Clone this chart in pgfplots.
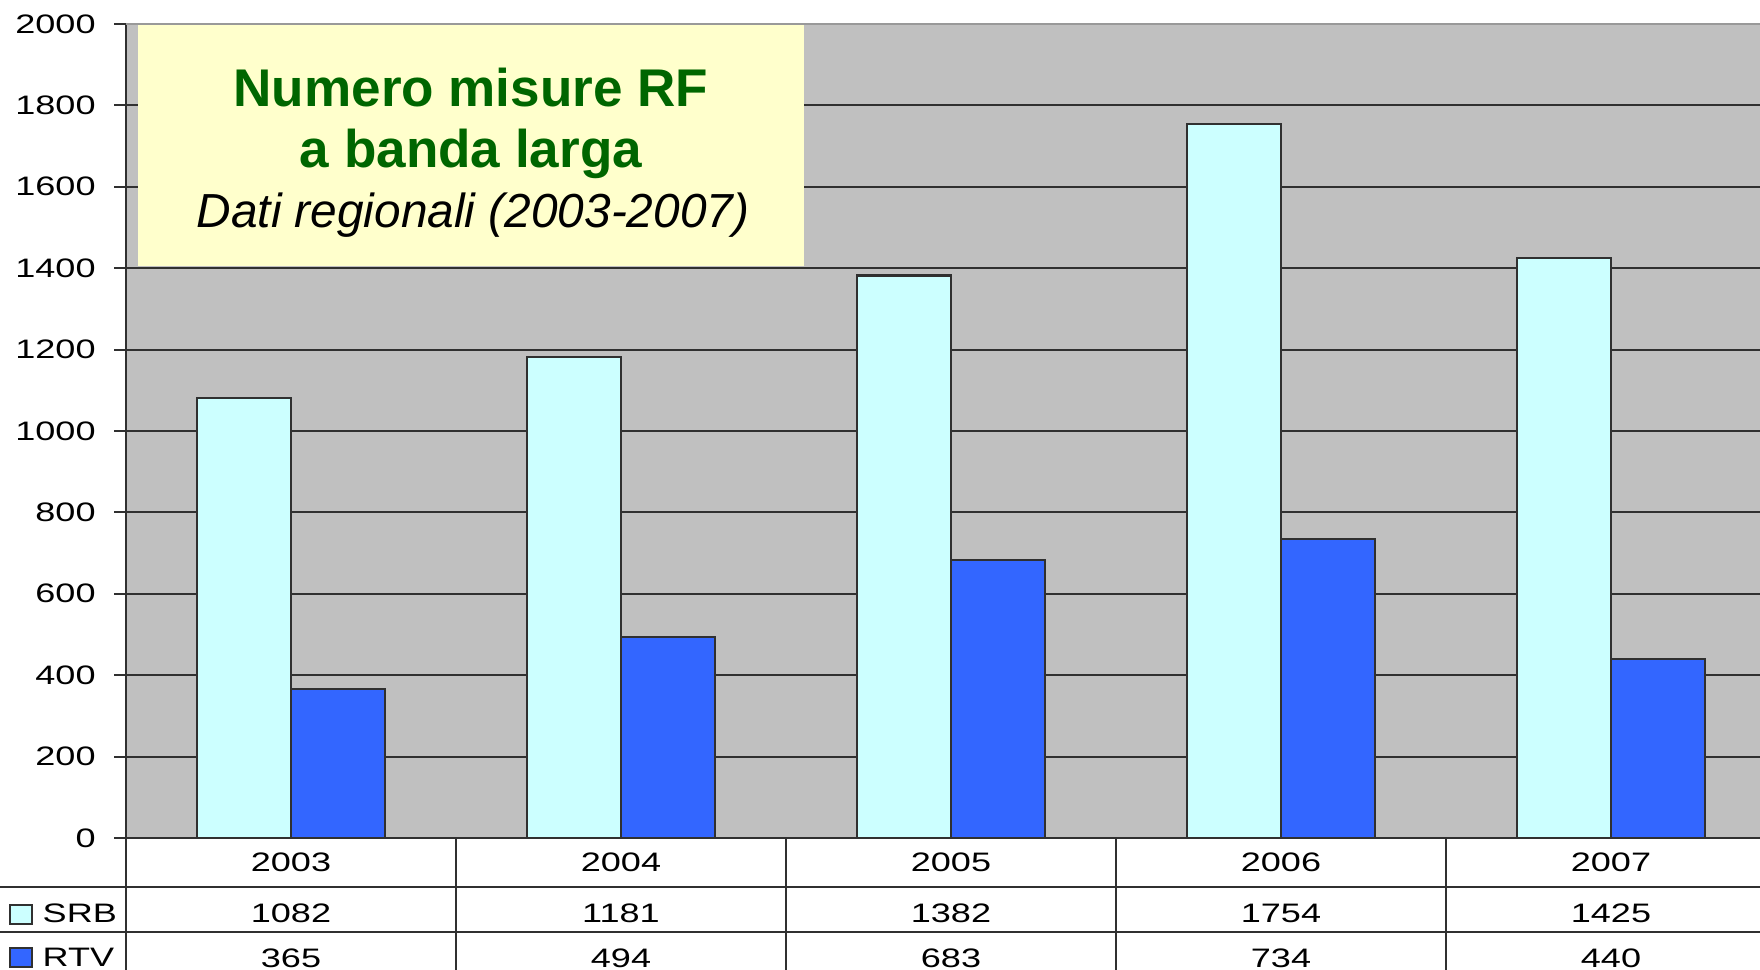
\documentclass[border=0pt]{standalone}
\usepackage{fontspec}
\usepackage{pgfplots}
\usepackage{pgfplotstable}
\pgfplotsset{compat=1.18}
\setmainfont{Liberation Sans}
\newfontfamily\chartfont[FakeStretch=1.35]{Liberation Sans}
\newcommand\tabfont{\chartfont\fontsize{7.6}{9}\selectfont}
\definecolor{srb}{HTML}{CCFFFF}
\definecolor{rtv}{HTML}{3366FF}
\definecolor{plotbg}{HTML}{C0C0C0}
\definecolor{titlebg}{HTML}{FFFFCC}
\definecolor{titlegreen}{HTML}{006600}
\definecolor{linec}{HTML}{303030}

\pgfplotstableread{
x year srb rtv
0 2003 1082 365
1 2004 1181 494
2 2005 1382 683
3 2006 1754 734
4 2007 1425 440
}\data

\begin{document}
\begin{tikzpicture}
\useasboundingbox (0,0) rectangle (17.6,9.7);
\clip (0,0) rectangle (17.6,9.7);
\fill[white] (0,0) rectangle (17.6,9.7);
\begin{axis}[
  at={(1.26cm,1.32cm)}, anchor=south west,
  scale only axis, width=16.5cm, height=8.14cm,
  xmin=-0.5, xmax=4.5, ymin=0, ymax=2000,
  axis lines*=left,
  axis line style={linec, line width=0.6pt},
  axis background/.style={fill=plotbg},
  ytick={0,200,...,2000},
  ymajorgrids, grid style={linec, line width=0.6pt},
  tick align=outside, ytick pos=left, major tick length=1.2mm,
  ytick style={linec, line width=0.6pt},
  xtick=\empty,
  yticklabel style={font=\tabfont, xshift=-0.6mm},
  /pgf/number format/assume math mode=true,
  /pgf/number format/1000 sep={},
  clip=false,
]
\addplot[ybar, bar width=9.4mm, bar shift=-4.7mm, fill=srb, draw=linec, line width=0.6pt] table[x=x,y=srb]{\data};
\addplot[ybar, bar width=9.4mm, bar shift=4.7mm, fill=rtv, draw=linec, line width=0.6pt] table[x=x,y=rtv]{\data};
\addplot[draw=none, mark=none, nodes near coords, point meta=explicit symbolic,
  every node near coord/.style={anchor=base, font=\tabfont, inner sep=0pt, text=black}]
  table[x=x, y expr=-83.5, meta=year]{\data};
\addplot[draw=none, mark=none, nodes near coords, point meta=explicit symbolic,
  every node near coord/.style={anchor=base, font=\tabfont, inner sep=0pt, text=black}]
  table[x=x, y expr=-208.8, meta=srb]{\data};
\addplot[draw=none, mark=none, nodes near coords, point meta=explicit symbolic,
  every node near coord/.style={anchor=base, font=\tabfont, inner sep=0pt, text=black}]
  table[x=x, y expr=-317, meta=rtv]{\data};
\end{axis}
% top border of plot area
\draw[black!40, line width=0.6pt] (1.26,9.46) -- (17.6,9.46);
% title box
\fill[titlebg] (1.38,7.04) rectangle (8.04,9.45);
\node[anchor=base, inner sep=0pt, font=\bfseries\fontsize{15.1}{18}\selectfont, text=titlegreen] at (4.71,8.63) {Numero misure RF};
\node[anchor=base, inner sep=0pt, font=\bfseries\fontsize{15.1}{18}\selectfont, text=titlegreen] at (4.71,8.02) {a banda larga};
\node[anchor=base, inner sep=0pt, font=\itshape\fontsize{13.6}{16}\selectfont] at (4.73,7.42) {Dati regionali (2003-2007)};
% data table lines
\draw[linec, line width=0.6pt] (0,0.83) -- (17.6,0.83) (0,0.38) -- (17.6,0.38);
\foreach \x in {1.26,4.56,7.86,11.16,14.46} \draw[linec, line width=0.6pt] (\x,0) -- (\x,1.32);
% legend keys
\draw[linec, line width=0.5pt, fill=srb] (0.10,0.46) rectangle (0.32,0.65);
\node[anchor=base west, inner sep=0pt, font=\tabfont] at (0.42,0.47) {SRB};
\draw[linec, line width=0.5pt, fill=rtv] (0.10,0.03) rectangle (0.32,0.22);
\node[anchor=base west, inner sep=0pt, font=\tabfont] at (0.42,0.03) {RTV};
\end{tikzpicture}
\end{document}
